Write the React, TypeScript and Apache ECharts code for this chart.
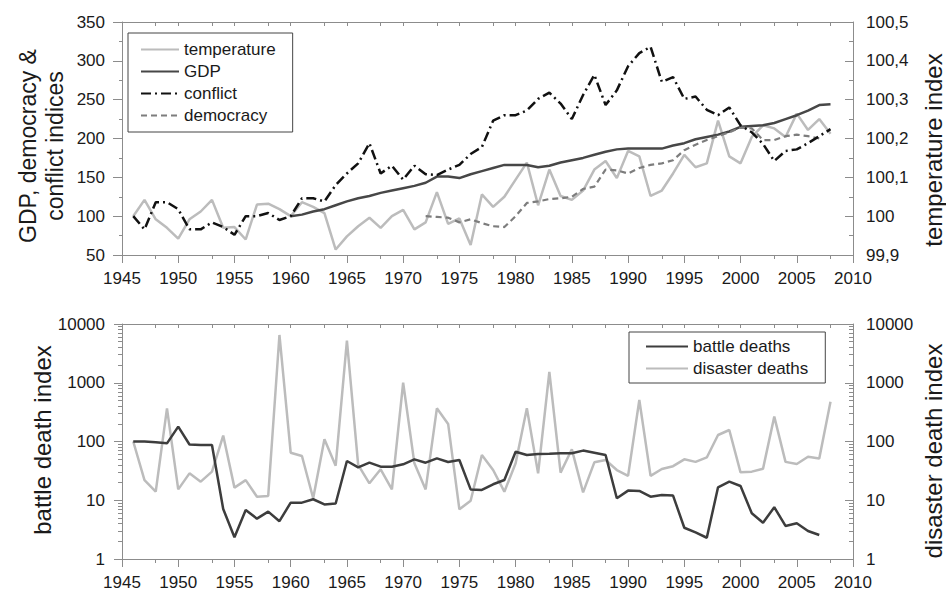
import React, { useEffect, useRef } from 'react';
import * as echarts from 'echarts';

const FONT = '"Liberation Sans", Arial, Helvetica, sans-serif';

// ---- data ----
const firstYear = 1946;
const temperature = [
  100.0, 100.042, 99.992, 99.97, 99.942, 99.992, 100.012, 100.042, 99.97, 99.972,
  99.94, 100.03, 100.032, 100.018, 100.0, 100.036, 100.024, 100.008, 99.914, 99.948,
  99.974, 99.996, 99.97, 100.0, 100.016, 99.966, 99.984, 100.062, 99.98, 99.994,
  99.926, 100.056, 100.024, 100.05, 100.094, 100.138, 100.028, 100.12, 100.052, 100.042,
  100.066, 100.12, 100.142, 100.098, 100.168, 100.154, 100.052, 100.066, 100.11, 100.158,
  100.126, 100.136, 100.246, 100.154, 100.136, 100.204, 100.234, 100.226, 100.204, 100.264,
  100.222, 100.25, 100.212,
];
const gdpStart = 1960;
const gdp = [
  100, 102, 106, 109, 114, 119, 123, 126, 130, 133,
  136, 139, 143, 151, 151, 149, 154, 158, 162, 166,
  166, 166, 163, 165, 169, 172, 175, 179, 183, 186,
  187, 187, 187, 187, 191, 194, 199, 202, 205, 209,
  215, 216, 217, 220, 225, 230, 236, 243, 244,
];
const conflict = [
  100, 83, 118, 118, 109, 83, 83, 92, 86, 76,
  100, 100, 104, 95, 100, 123, 123, 119, 140, 155,
  168, 194, 155, 165, 147, 165, 154, 153, 160, 166,
  180, 189, 223, 230, 230, 236, 251, 259, 245, 225,
  256, 282, 243, 262, 293, 310, 318, 273, 279, 251,
  254, 237, 230, 240, 217, 208, 193, 171, 184, 186,
  194, 203, 212,
];
const democracyStart = 1972;
const democracy = [
  100, 99, 98, 92, 96, 91, 87, 86,
  100, 117, 119, 122, 123, 125, 135, 138, 160, 159,
  155, 162, 166, 168, 172, 185, 192, 198, 203, 208,
  214, 213, 198, 198, 203, 205, 203, 200,
];
const battleDeaths = [
  100, 100, 97, 93, 179, 89, 87, 87,
  7.1, 2.34, 6.8, 4.86, 6.4, 4.4, 9.1, 9.1, 10.4, 8.5,
  8.8, 46.6, 36.3, 43.6, 37.3, 37.3, 40.9, 49.7, 43.6, 51.7,
  44.8, 48.5, 15.3, 15, 18.7, 22.1, 67, 59, 61.5, 62,
  63, 63, 70, 64.5, 59, 10.8, 14.6, 14.4, 11.5, 12.3,
  12, 3.4, 2.84, 2.3, 16.6, 20.7, 17.5, 6.0, 4.15, 7.6,
  3.65, 4.05, 3.0, 2.56,
];
const disasterDeaths = [
  100, 22, 14, 367, 15.3, 28.7, 20.7, 30.7,
  126, 16.4, 22, 11.5, 11.8, 6500, 64.5, 56.7, 10.8, 109,
  38.8, 5200, 40, 19.4, 33.6, 15.3, 1000, 42.5, 15.3, 367,
  199, 7.0, 9.8, 59, 32.7, 14, 42.5, 367, 28.7, 1524,
  29.5, 73.6, 13.6, 44.2, 48.5, 32.7, 26, 509, 26, 34,
  38, 49.7, 45, 53.5, 129, 157, 29.9, 30.7, 34.4, 265,
  45, 41.5, 55, 51.5, 476,
];

const majorYearTicks = [1945, 1950, 1955, 1960, 1965, 1970, 1975, 1980, 1985, 1990, 1995, 2000, 2005, 2010];
const minorYearTicks = [1948, 1953, 1958, 1963, 1968, 1973, 1978, 1983, 1988, 1993, 1998, 2003, 2008];
const allYearTicks = majorYearTicks.concat(minorYearTicks).sort((a, b) => a - b);

const legendTop = ['temperature', 'GDP', 'conflict', 'democracy'];
const legendBottom = ['battle deaths', 'disaster deaths'];

// positions (in log decades) of the small ticks between 1, 10, 100, 1000, 10000
const logMinor: number[] = [];
for (let d = 0; d < 4; d++) for (let k = 2; k <= 9; k++) logMinor.push(d + Math.log10(k));

const pairs = (start: number, arr: number[]) => arr.map((v, i) => [start + i, v]);

const AXIS = '#8c8c8c';
const LABEL = '#1a1a1a';
const plain = (v: number) => String(Math.round(v * 1000) / 1000);

function xAxesFor(grid: number) {
  return [
    {
      gridIndex: grid, type: 'value', position: 'bottom', min: 1945, max: 2010, interval: 5,
      axisLine: { show: true, onZero: false, lineStyle: { color: AXIS, width: 1 } },
      axisTick: { show: true, length: 8, lineStyle: { color: AXIS } },
      axisLabel: { fontSize: 17, color: LABEL, fontFamily: FONT, margin: 15, formatter: plain },
      splitLine: { show: false },
    },
    {
      gridIndex: grid, type: 'value', position: 'bottom', min: 1945, max: 2010,
      axisLine: { show: false, onZero: false },
      axisTick: { show: true, length: 4, customValues: minorYearTicks, lineStyle: { color: AXIS } },
      axisLabel: { show: false },
      splitLine: { show: false },
    },
    {
      gridIndex: grid, type: 'value', position: 'top', min: 1945, max: 2010,
      axisLine: { show: true, onZero: false, lineStyle: { color: AXIS, width: 1 } },
      axisTick: { show: true, inside: true, length: 4, customValues: allYearTicks, lineStyle: { color: AXIS } },
      axisLabel: { show: false },
      splitLine: { show: false },
    },
  ];
}

const legendBase = {
  orient: 'vertical', itemGap: 5, itemHeight: 14,
  borderColor: '#454545', borderWidth: 1, backgroundColor: '#ffffff',
  textStyle: { fontSize: 17, color: LABEL, fontFamily: FONT, lineHeight: 17 },
  itemStyle: { opacity: 0 },
  selectedMode: false,
};

export default function App() {
  const ref = useRef<HTMLDivElement>(null);
  useEffect(() => {
    if (!ref.current) return;
    const chart = echarts.init(ref.current, null, { renderer: 'svg' });
    const option: any = {
      animation: false,
      backgroundColor: '#ffffff',
      textStyle: { fontFamily: FONT },
      grid: [
        { left: 122, right: 93, top: 22, height: 233 },
        { left: 122, right: 93, top: 324, height: 235 },
      ],
      xAxis: [...xAxesFor(0), ...xAxesFor(1)],
      yAxis: [
        {
          gridIndex: 0, type: 'value', position: 'left', min: 50, max: 350, interval: 50,
          axisLine: { show: true, onZero: false, lineStyle: { color: AXIS } },
          axisTick: { show: true, length: 9, lineStyle: { color: AXIS } },
          minorTick: { show: true, splitNumber: 2, length: 3, lineStyle: { color: AXIS } },
          axisLabel: { fontSize: 17, color: LABEL, fontFamily: FONT, margin: 17, formatter: plain },
          splitLine: { show: false },
        },
        {
          gridIndex: 0, type: 'value', position: 'right', min: 99.9, max: 100.5, interval: 0.1,
          axisLine: { show: true, onZero: false, lineStyle: { color: AXIS } },
          axisTick: { show: true, inside: true, length: 8, lineStyle: { color: AXIS } },
          minorTick: { show: true, splitNumber: 2, length: 4, lineStyle: { color: AXIS } },
          axisLabel: {
            fontSize: 17, color: LABEL, fontFamily: FONT, margin: 13,
            formatter: (v: number) => String(Math.round(v * 10) / 10).replace('.', ','),
          },
          splitLine: { show: false },
        },
        {
          gridIndex: 1, type: 'log', logBase: 10, position: 'left', min: 1, max: 10000,
          axisLine: { show: true, onZero: false, lineStyle: { color: AXIS } },
          axisTick: { show: true, length: 8, lineStyle: { color: AXIS } },
          axisLabel: { fontSize: 17, color: LABEL, fontFamily: FONT, margin: 17, formatter: plain },
          splitLine: { show: false },
        },
        {
          gridIndex: 1, type: 'log', logBase: 10, position: 'right', min: 1, max: 10000,
          axisLine: { show: true, onZero: false, lineStyle: { color: AXIS } },
          axisTick: { show: true, inside: true, length: 8, lineStyle: { color: AXIS } },
          axisLabel: { fontSize: 17, color: LABEL, fontFamily: FONT, margin: 13, formatter: plain },
          splitLine: { show: false },
        },
        {
          gridIndex: 1, type: 'value', position: 'left', min: 0, max: 4,
          axisLine: { show: false, onZero: false },
          axisTick: { show: true, length: 4, customValues: logMinor, lineStyle: { color: AXIS } },
          axisLabel: { show: false },
          splitLine: { show: false },
        },
        {
          gridIndex: 1, type: 'value', position: 'right', min: 0, max: 4,
          axisLine: { show: false, onZero: false },
          axisTick: { show: true, inside: true, length: 4, customValues: logMinor, lineStyle: { color: AXIS } },
          axisLabel: { show: false },
          splitLine: { show: false },
        },
      ],
      legend: [
        {
          ...legendBase, data: legendTop, left: 128, top: 33,
          padding: [8, 17, 8, 12], itemWidth: 38,
        },
        {
          ...legendBase, data: legendBottom, left: 629, top: 332,
          padding: [6, 17, 6, 16], itemWidth: 42,
        },
      ],
      series: [
        {
          name: 'temperature', type: 'line', xAxisIndex: 0, yAxisIndex: 1,
          data: pairs(firstYear, temperature), symbol: 'none', z: 2,
          lineStyle: { color: '#bcbcbc', width: 2.5 }, itemStyle: { color: '#bcbcbc' },
        },
        {
          name: 'GDP', type: 'line', xAxisIndex: 0, yAxisIndex: 0,
          data: pairs(gdpStart, gdp), symbol: 'none', z: 3,
          lineStyle: { color: '#474747', width: 2.5 }, itemStyle: { color: '#474747' },
        },
        {
          name: 'conflict', type: 'line', xAxisIndex: 0, yAxisIndex: 0,
          data: pairs(firstYear, conflict), symbol: 'none', z: 4,
          lineStyle: { color: '#111111', width: 2.5, type: [10, 4, 2, 4] }, itemStyle: { color: '#111111' },
        },
        {
          name: 'democracy', type: 'line', xAxisIndex: 0, yAxisIndex: 0,
          data: pairs(democracyStart, democracy), symbol: 'none', z: 3,
          lineStyle: { color: '#7d7d7d', width: 2.2, type: [6, 4] }, itemStyle: { color: '#7d7d7d' },
        },
        {
          name: 'battle deaths', type: 'line', xAxisIndex: 3, yAxisIndex: 2,
          data: pairs(firstYear, battleDeaths), symbol: 'none', z: 3,
          lineStyle: { color: '#3d3d3d', width: 2.5 }, itemStyle: { color: '#3d3d3d' },
        },
        {
          name: 'disaster deaths', type: 'line', xAxisIndex: 3, yAxisIndex: 3,
          data: pairs(firstYear, disasterDeaths), symbol: 'none', z: 2,
          lineStyle: { color: '#bcbcbc', width: 2.5 }, itemStyle: { color: '#bcbcbc' },
        },
      ],
      graphic: [
        {
          type: 'text', x: 41, y: 146, rotation: Math.PI / 2,
          style: { text: 'GDP, democracy &\nconflict indices', fontSize: 23, lineHeight: 27, fontFamily: FONT, fill: LABEL, align: 'center', verticalAlign: 'middle' },
        },
        {
          type: 'text', x: 933, y: 150, rotation: Math.PI / 2,
          style: { text: 'temperature index', fontSize: 24, fontFamily: FONT, fill: LABEL, align: 'center', verticalAlign: 'middle' },
        },
        {
          type: 'text', x: 42, y: 440, rotation: Math.PI / 2,
          style: { text: 'battle death index', fontSize: 24, fontFamily: FONT, fill: LABEL, align: 'center', verticalAlign: 'middle' },
        },
        {
          type: 'text', x: 933, y: 451, rotation: Math.PI / 2,
          style: { text: 'disaster death index', fontSize: 24, fontFamily: FONT, fill: LABEL, align: 'center', verticalAlign: 'middle' },
        },
      ],
    };
    chart.setOption(option);
    return () => chart.dispose();
  }, []);
  return <div ref={ref} style={{ position: 'fixed', left: 0, top: 0, width: 946, height: 592 }} />;
}
